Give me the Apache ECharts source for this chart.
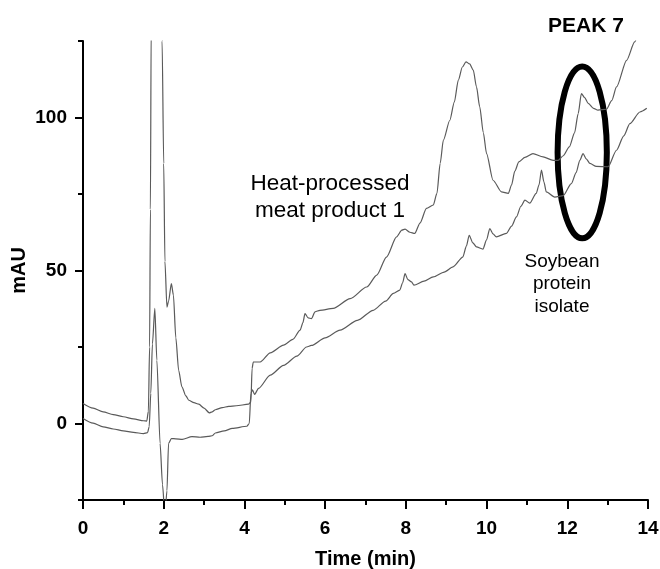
<!DOCTYPE html>
<html>
<head>
<meta charset="utf-8">
<script src="https://cdn.jsdelivr.net/npm/echarts@6.0.0/dist/echarts.min.js"></script>
<style>
  html, body { margin: 0; padding: 0; background: #fff; }
  #container { width: 660px; height: 569px; }
</style>
</head>
<body>
<div id="container"></div>
<script>
var dom = document.getElementById('container');
var myChart = echarts.init(dom, null, { renderer: 'canvas' });

var FONT = '"Liberation Sans", Arial, Helvetica, sans-serif';

// upper trace: heat-processed meat product 1  [time (min), mAU]
var meatTrace = [
    [0, 6.5], [0.25, 5.0], [0.5, 3.8], [0.75, 2.9], [1.0, 2.2], [1.25, 1.5], [1.5, 0.9],
    [1.58, 0.8], [1.62, 4], [1.65, 25], [1.67, 70], [1.69, 130], [1.75, 190], [1.85, 220],
    [1.93, 180], [1.96, 125], [2.0, 85], [2.03, 53], [2.08, 38], [2.12, 40], [2.19, 45.7],
    [2.24, 42], [2.3, 28], [2.37, 17.4], [2.45, 12], [2.55, 9], [2.62, 7.6], [2.75, 6.8],
    [2.87, 6.3], [3.0, 5], [3.13, 3.5], [3.2, 3.8], [3.28, 4.5], [3.45, 5.2], [3.61, 5.6],
    [3.8, 5.8], [4.1, 6.3], [4.16, 7], [4.19, 18], [4.22, 20.1], [4.39, 20.1], [4.64, 23.1],
    [4.97, 25.6], [5.2, 27.5], [5.38, 30.5], [5.45, 33], [5.5, 35.9], [5.58, 34.5], [5.66, 34.3],
    [5.75, 36.5], [5.87, 37], [6.2, 37.6], [6.62, 40.8], [7.03, 44.6], [7.28, 48.5], [7.52, 54.4],
    [7.77, 61], [7.9, 63.2], [7.98, 63.5], [8.1, 62.5], [8.22, 62.1], [8.35, 65.5], [8.51, 70.3],
    [8.68, 71.4], [8.77, 75.2], [8.85, 85], [8.93, 92.6], [9.09, 99.1], [9.2, 105], [9.3, 112.2],
    [9.4, 116.5], [9.49, 118.2], [9.58, 117.5], [9.67, 115.5], [9.75, 110], [9.83, 103.5],
    [9.92, 95], [10.0, 88.2], [10.16, 79.5], [10.37, 75.7], [10.54, 75.2], [10.62, 78],
    [10.7, 82.5], [10.8, 85.5], [10.95, 87], [11.15, 88.2], [11.4, 87.1], [11.65, 86], [11.77, 86],
    [11.9, 87.5], [12.05, 90.4], [12.18, 95], [12.27, 101.3], [12.35, 107.8], [12.43, 106.5],
    [12.52, 104.6], [12.65, 103], [12.76, 102.4], [12.97, 102.7], [13.1, 105.5], [13.22, 110],
    [13.47, 118.7], [13.67, 124.7], [13.8, 129], [14, 135]
];

// lower trace: soybean protein isolate
var soyTrace = [
    [0, 1.6], [0.25, 0.1], [0.5, -1.1], [0.75, -1.8], [1.0, -2.4], [1.25, -2.9], [1.5, -3.3],
    [1.6, -3.0], [1.64, -1], [1.68, 9.9], [1.72, 26], [1.78, 37.6], [1.83, 20.7], [1.91, -6.5],
    [1.97, -20], [2.03, -30], [2.08, -22], [2.12, -6.5], [2.19, -4.9], [2.3, -5], [2.46, -5.2],
    [2.7, -4.3], [2.9, -4.5], [3.1, -4.2], [3.2, -4], [3.28, -3.1], [3.5, -2.4], [3.7, -1.6],
    [4.06, -0.9], [4.12, 0], [4.16, 9.8], [4.2, 11], [4.25, 9.5], [4.35, 11.5], [4.64, 15.8],
    [4.97, 19], [5.3, 22], [5.54, 25], [5.66, 25.5], [6.0, 28], [6.37, 30.5], [6.8, 33.7],
    [7.19, 37], [7.5, 40], [7.69, 42.5], [7.85, 43.6], [7.92, 46], [7.98, 49], [8.05, 47],
    [8.14, 46.3], [8.2, 45.2], [8.45, 46.5], [8.68, 47.9], [8.95, 49.5], [9.17, 51.2], [9.41, 54.4],
    [9.5, 58], [9.57, 61.5], [9.66, 59], [9.75, 57.7], [9.91, 57], [10.0, 60], [10.08, 63.7],
    [10.16, 62], [10.24, 61], [10.49, 62.1], [10.62, 64.5], [10.74, 67.5], [10.85, 71], [10.95, 73],
    [11.07, 72], [11.23, 75.2], [11.3, 78], [11.36, 82.8], [11.42, 79], [11.48, 75.7], [11.69, 74],
    [11.9, 74.5], [12.1, 78.4], [12.22, 82], [12.31, 86], [12.39, 88.2], [12.47, 86.5], [12.56, 85],
    [12.72, 84], [13.01, 83.9], [13.22, 89.3], [13.4, 94], [13.55, 98], [13.8, 101.8], [13.97, 103]
];

// axis ticks
var yMajorTicks = [0, 50, 100];
var yMinorTicks = [-25, 25, 75, 125];

// peak 7 ring, in data units: centre time, centre mAU, half width (min), half height (mAU)
var peakRing = [12.37, 88.6, 0.61, 28.1];

var axisLine = { show: true, onZero: false, lineStyle: { color: '#000', width: 2 } };
var tickLabel = { color: '#000', fontFamily: FONT, fontWeight: 'bold', fontSize: 19 };

option = {
    animation: false,
    backgroundColor: '#fff',
    grid: { left: 83, right: 12, top: 41, bottom: 69, containLabel: false, outerBoundsMode: 'none' },
    xAxis: {
        type: 'value', min: 0, max: 14, interval: 2,
        name: 'Time (min)', nameLocation: 'middle', nameGap: 49,
        nameTextStyle: { color: '#000', fontFamily: FONT, fontWeight: 'bold', fontSize: 20 },
        axisLine: axisLine,
        axisTick: { show: true, length: 9, lineStyle: { color: '#000', width: 2 } },
        minorTick: { show: true, splitNumber: 2, length: 5, lineStyle: { color: '#000', width: 2 } },
        splitLine: { show: false },
        axisLabel: Object.assign({ margin: 19 }, tickLabel)
    },
    yAxis: [{
        type: 'value', min: -25, max: 125, interval: 25,
        name: 'mAU', nameLocation: 'middle', nameGap: 54, nameRotate: 90, nameMoveOverlap: false,
        nameTextStyle: { color: '#000', fontFamily: FONT, fontWeight: 'bold', fontSize: 20 },
        axisLine: axisLine,
        axisTick: { show: true, length: 8, customValues: yMajorTicks, lineStyle: { color: '#000', width: 2 } },
        splitLine: { show: false },
        axisLabel: Object.assign({ margin: 16, customValues: yMajorTicks }, tickLabel)
    }, {
        type: 'value', min: -25, max: 125, interval: 25, position: 'left',
        axisLine: { show: false, onZero: false },
        axisTick: { show: true, length: 5, customValues: yMinorTicks, lineStyle: { color: '#000', width: 2 } },
        splitLine: { show: false },
        axisLabel: { show: false }
    }],
    series: [{
        name: 'Heat-processed meat product 1', type: 'line', data: meatTrace,
        showSymbol: false, clip: true, smooth: 0.25, smoothMonotone: 'x',
        lineStyle: { color: '#5a5a5a', width: 1.2 }
    }, {
        name: 'Soybean protein isolate', type: 'line', data: soyTrace,
        showSymbol: false, clip: true, smooth: 0.25, smoothMonotone: 'x',
        lineStyle: { color: '#5a5a5a', width: 1.2 }
    }]
};

myChart.setOption(option);

// annotations, the ring is placed from data coordinates
var c = myChart.convertToPixel({ gridIndex: 0 }, [peakRing[0], peakRing[1]]);
var e = myChart.convertToPixel({ gridIndex: 0 }, [peakRing[0] + peakRing[2], peakRing[1] + peakRing[3]]);

myChart.setOption({
    graphic: [{
        type: 'ellipse',
        shape: { cx: c[0], cy: c[1], rx: Math.abs(e[0] - c[0]), ry: Math.abs(c[1] - e[1]) },
        style: { fill: null, stroke: '#000', lineWidth: 6 }
    }, {
        type: 'text', x: 330, y: 197,
        style: {
            text: 'Heat-processed\nmeat product 1', fill: '#000', font: '22.5px ' + FONT,
            align: 'center', verticalAlign: 'middle', lineHeight: 27
        }
    }, {
        type: 'text', x: 586, y: 26,
        style: {
            text: 'PEAK 7', fill: '#000', font: 'bold 21px ' + FONT,
            align: 'center', verticalAlign: 'middle'
        }
    }, {
        type: 'text', x: 562, y: 284,
        style: {
            text: 'Soybean\nprotein\nisolate', fill: '#000', font: '19px ' + FONT,
            align: 'center', verticalAlign: 'middle', lineHeight: 22.5
        }
    }]
});
</script>
</body>
</html>
